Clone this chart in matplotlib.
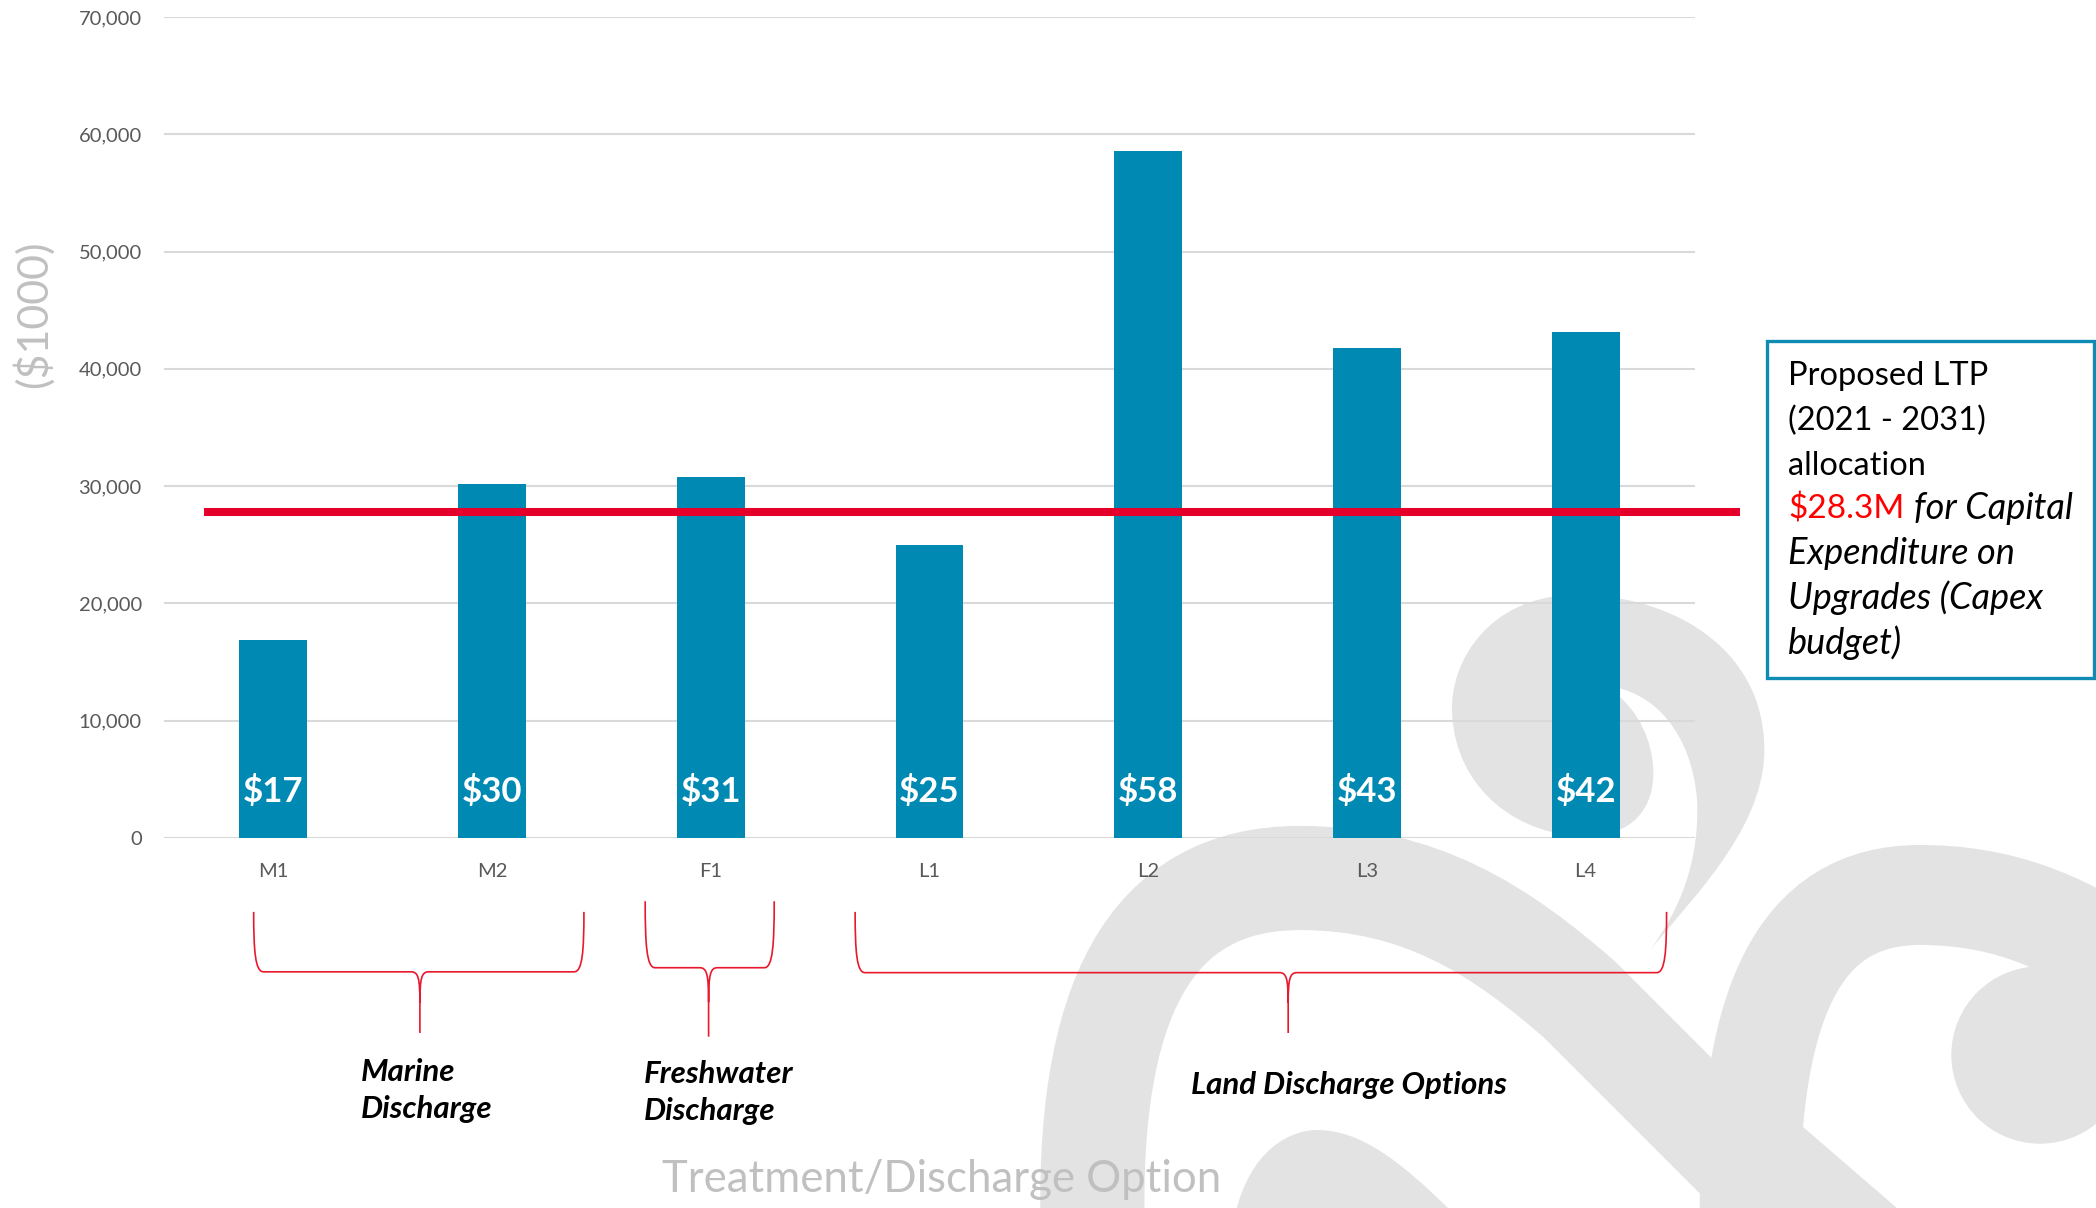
import matplotlib
matplotlib.use("Agg")
import matplotlib.pyplot as plt
import matplotlib.transforms as mtransforms
from matplotlib.path import Path
from matplotlib.patches import PathPatch, Circle, Rectangle
from matplotlib.ticker import StrMethodFormatter

plt.rcParams["font.family"] = ["Lato", "DejaVu Sans"]

# ---------- data ----------
options = ["M1", "M2", "F1", "L1", "L2", "L3", "L4"]
costs = [16900, 30200, 30800, 25000, 58600, 41800, 43100]  # ($1000)
cost_labels = ["$17", "$30", "$31", "$25", "$58", "$43", "$42"]
budget = 27800
y_ticks = [0, 10000, 20000, 30000, 40000, 50000, 60000, 70000]

group_names = ["Marine\nDischarge", "Freshwater\nDischarge", "Land Discharge Options"]
# bracket span in category units: left, right, tip
group_spans = [(-0.09, 1.42, 0.67), (1.70, 2.29, 1.99), (2.66, 6.37, 4.64)]

box_lines = ["Proposed LTP", "(2021 - 2031)", "allocation"]
box_amount = "$28.3M"
box_italic = ["for Capital", "Expenditure on", "Upgrades (Capex", "budget)"]

BAR = "#0089b3"
RED = "#e4002b"
GREY_TXT = "#595959"
LIGHT = "#c0c0c0"
WMARK = "#e3e3e3"

W, H = 2096, 1208
fig = plt.figure(figsize=(W / 100, H / 100), dpi=100, facecolor="white")

# pixel coords (y down) -> figure
pxT = mtransforms.Affine2D().scale(1 / W, -1 / H).translate(0, 1) + fig.transFigure


def fx(x):
    return x / W


def fy(y):
    return 1 - y / H


# ---------- background koru watermark ----------
def add_path(verts, codes, **kw):
    p = PathPatch(Path(verts, codes), transform=pxT, zorder=-5, **kw)
    fig.add_artist(p)


C4 = Path.CURVE4
# big left arch
add_path([(1093, 1240), (1085, 1000), (1150, 878), (1300, 878),
          (1420, 878), (1500, 930), (1580, 1000), (1830, 1250)],
         [Path.MOVETO, C4, C4, C4, C4, C4, C4, Path.LINETO],
         fill=False, lw=75, color=WMARK, capstyle="butt")
# mound under the land label
add_path([(1235, 1215), (1250, 1150), (1290, 1130), (1317, 1130),
          (1360, 1130), (1400, 1160), (1455, 1215), (1235, 1215)],
         [Path.MOVETO, C4, C4, C4, C4, C4, C4, Path.CLOSEPOLY],
         facecolor=WMARK, edgecolor="none")
# right arch
add_path([(1750, 1240), (1745, 1000), (1800, 895), (1920, 895),
          (2000, 895), (2060, 920), (2120, 960)],
         [Path.MOVETO, C4, C4, C4, C4, C4, C4],
         fill=False, lw=72, color=WMARK, capstyle="butt")
add_path([(1795, 1120), (1905, 1215), (1795, 1215), (1795, 1120)],
         [Path.MOVETO, Path.LINETO, Path.LINETO, Path.CLOSEPOLY],
         facecolor=WMARK, edgecolor="none")
fig.add_artist(Circle((2040, 1055), 88, transform=pxT, color=WMARK, zorder=-5))
# upper koru hook
add_path([(1650, 950),
          (1700, 890), (1770, 820), (1764, 740),
          (1758, 640), (1660, 592), (1570, 595),
          (1490, 598), (1450, 660), (1452, 712),
          (1455, 790), (1520, 838), (1590, 836),
          (1640, 834), (1656, 800), (1653, 765),
          (1650, 730), (1630, 700), (1605, 686),
          (1655, 690), (1692, 735), (1697, 800),
          (1700, 860), (1680, 910), (1650, 950),
          (1650, 950)],
         [Path.MOVETO] + [C4] * 24 + [Path.CLOSEPOLY],
         facecolor=WMARK, edgecolor="none")

# ---------- main axes ----------
ax = fig.add_axes([fx(164), fy(838), (1695 - 164) / W, (838 - 17) / H])
ax.set_facecolor("none")

ax.bar(options, costs, width=0.31, color=BAR, zorder=3)
for i, lab in enumerate(cost_labels):
    ax.text(i, 3950, lab, ha="center", va="center", color="white",
            fontsize=25, fontweight="bold", zorder=5)

ax.plot([-0.317, 6.706], [budget, budget], color=RED, lw=5.8,
        solid_capstyle="butt", clip_on=False, zorder=4)

ax.set_xlim(-0.5, 6.5)
ax.set_ylim(0, 70000)
ax.set_yticks(y_ticks)
ax.yaxis.set_major_formatter(StrMethodFormatter("{x:,.0f}"))
ax.grid(axis="y", color="#d9d9d9", lw=1.5, zorder=1)
ax.set_axisbelow(True)
for s in ax.spines.values():
    s.set_visible(False)
ax.tick_params(axis="both", length=0, labelsize=14.5, labelcolor=GREY_TXT)
ax.tick_params(axis="y", pad=16)
ax.tick_params(axis="x", pad=18)

# ---------- curly brackets under the categories ----------
bt = ax.get_xaxis_transform()


def bracket(x0, x1, xt, yt, ym, yb):
    rx = 0.045
    tx = 0.04
    half = ym - 0.5 * (ym - yb)
    verts = [(x0, yt), (x0, ym + 0.35 * (yt - ym)), (x0 + 0.15 * rx, ym), (x0 + rx, ym),
             (xt - tx, ym),
             (xt - 0.2 * tx, ym), (xt, ym - 0.1 * (ym - yb)), (xt, half),
             (xt, yb),
             (xt, half),
             (xt, ym - 0.1 * (ym - yb)), (xt + 0.2 * tx, ym), (xt + tx, ym),
             (x1 - rx, ym),
             (x1 - 0.15 * rx, ym), (x1, ym + 0.35 * (yt - ym)), (x1, yt)]
    codes = [Path.MOVETO, C4, C4, C4, Path.LINETO, C4, C4, C4, Path.LINETO,
             Path.MOVETO, C4, C4, C4, Path.LINETO, C4, C4, C4]
    ax.add_patch(PathPatch(Path(verts, codes), transform=bt, fill=False,
                           edgecolor="#e8192c", lw=1.2, clip_on=False))


bracket_y = [(-0.090, -0.163, -0.2375), (-0.077, -0.158, -0.242), (-0.090, -0.164, -0.2375)]
for (x0, x1, xt), (yt, ym, yb) in zip(group_spans, bracket_y):
    bracket(x0, x1, xt, yt, ym, yb)

label_pos = [(361, 1075), (644, 1077), (1191, 1088)]
for name, (lx, ly) in zip(group_names, label_pos):
    fig.text(fx(lx), fy(ly - 17), name, ha="left", va="top", fontsize=22.5,
             fontweight="bold", fontstyle="italic", color="black", linespacing=1.38)

# ---------- axis titles ----------
fig.text(fx(33), fy(314), "($1000)", rotation=90, ha="center", va="center",
         fontsize=31, color=LIGHT)
fig.text(fx(942), fy(1179), "Treatment/Discharge Option", ha="center", va="center",
         fontsize=31.5, color=LIGHT)

# ---------- budget note box ----------
fig.add_artist(Rectangle((1767, 341), 2094 - 1767, 678 - 341, transform=pxT,
                         facecolor="white", edgecolor="#0e8ab3", lw=2.4, zorder=2))
base = [385, 430, 475, 519, 564, 609, 654]
tx0 = fx(1788)
for line, b in zip(box_lines, base[:3]):
    fig.text(tx0, fy(b), line, ha="left", va="baseline", fontsize=23.5, color="black", zorder=3)
amt = fig.text(tx0, fy(base[3]), box_amount, ha="left", va="baseline", fontsize=24,
               color="#ff0000", zorder=3)
fig.canvas.draw()
bb = amt.get_window_extent()
fig.text(fx(bb.x1 + 10), fy(base[3]), box_italic[0], ha="left", va="baseline", fontsize=26,
         fontstyle="italic", color="black", zorder=3)
for line, b in zip(box_italic[1:], base[4:]):
    fig.text(tx0, fy(b), line, ha="left", va="baseline", fontsize=26,
             fontstyle="italic", color="black", zorder=3)

fig.savefig("out.png", dpi=100, facecolor="white")
